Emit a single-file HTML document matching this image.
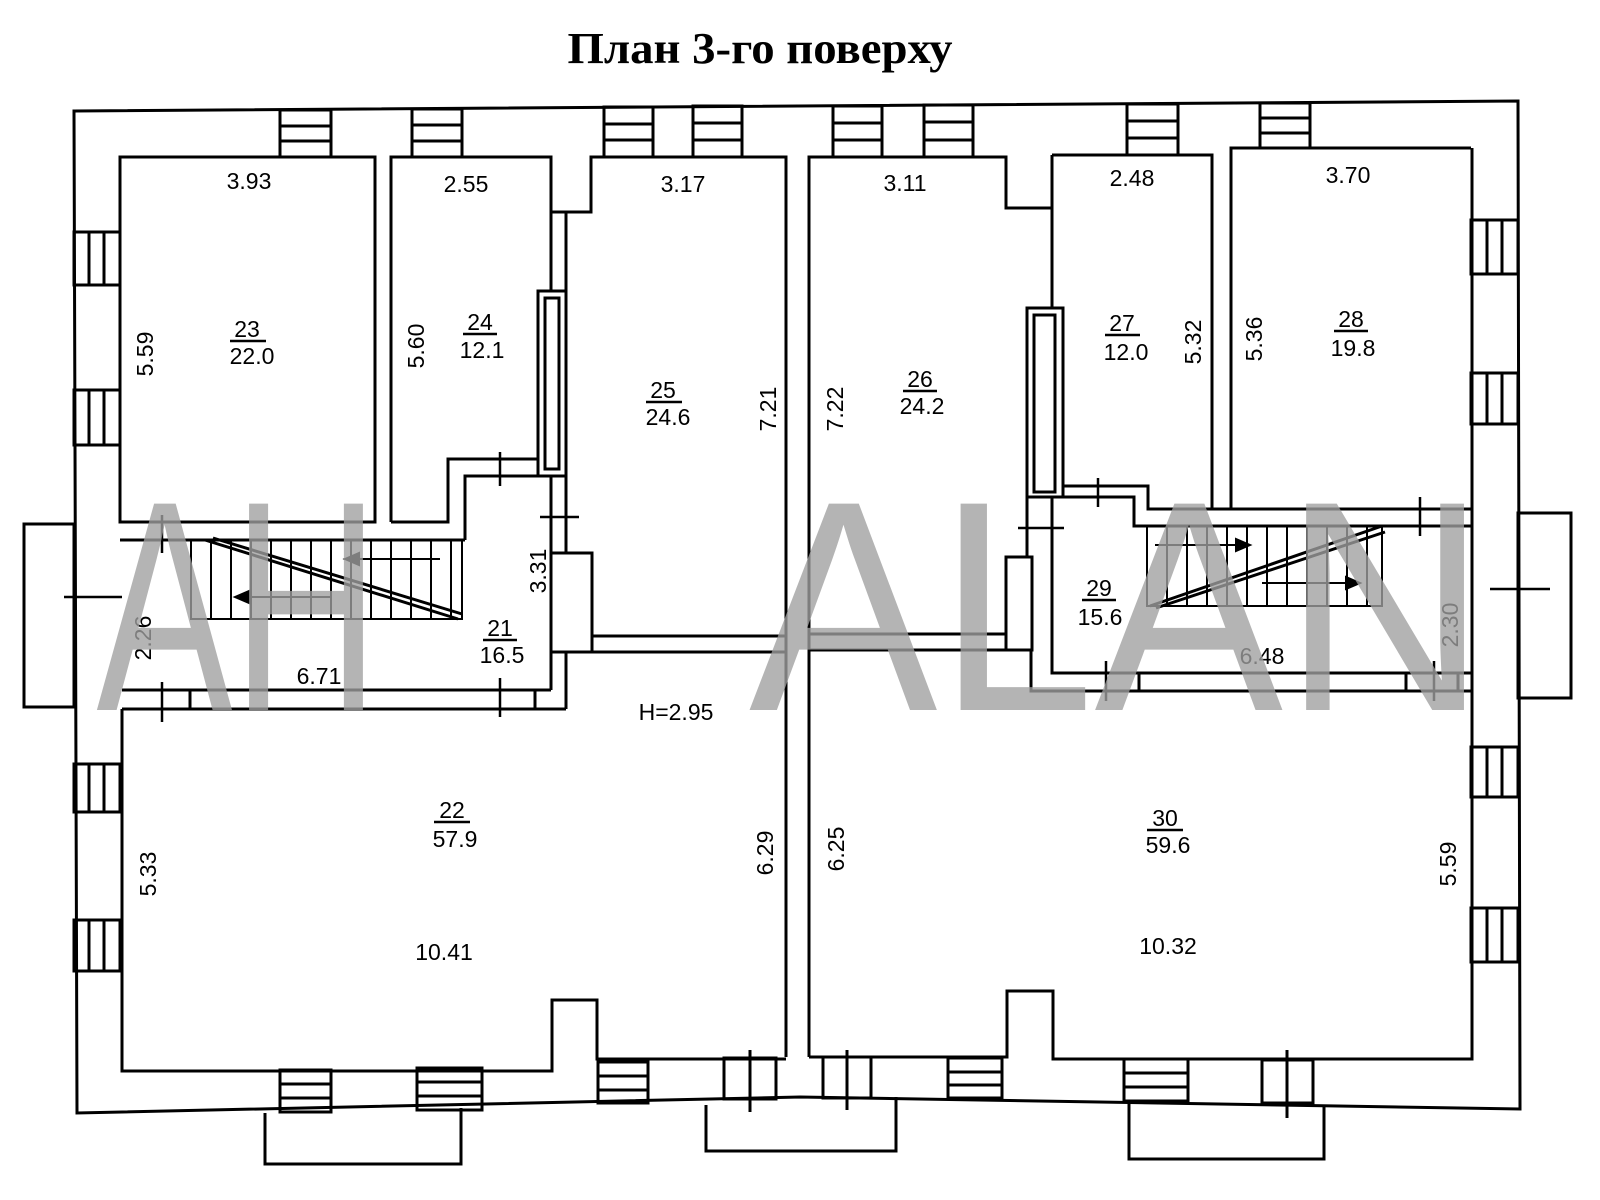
<!DOCTYPE html>
<html><head><meta charset="utf-8"><style>
html,body{margin:0;padding:0;background:#fff;width:1600px;height:1200px;overflow:hidden}
svg{display:block}
.l{fill:none;stroke:#000;stroke-width:3;stroke-linejoin:miter}
.t{stroke:#000;stroke-width:2.5}
text{font-family:"Liberation Sans",sans-serif;font-size:23px;fill:#000;text-anchor:middle}
</style></head><body>
<svg width="1600" height="1200" viewBox="0 0 1600 1200">
<text x="760" y="63" style="font-family:'Liberation Serif',serif;font-weight:bold;font-size:44px" textLength="385" lengthAdjust="spacingAndGlyphs">План 3-го поверху</text>

<!-- outer wall -->
<path class="l" d="M74,111 L1518,101 L1520,1109 L800,1097 L77,1113 Z" fill="#fff"/>
<!-- protrusions -->
<rect class="l" x="24" y="524" width="50" height="183"/>
<rect class="l" x="1518" y="513" width="53" height="185"/>
<path class="l" d="M265,1113 V1164 H461 V1108"/>
<path class="l" d="M706,1105 V1151 H896 V1097"/>
<path class="l" d="M1129,1100 V1159 H1324 V1105"/>
<line class="t" x1="64" y1="597" x2="122" y2="597"/>
<line class="t" x1="1490" y1="589" x2="1550" y2="589"/>

<!-- top windows -->
<g class="l">
<rect x="280" y="110" width="51" height="47"/><path d="M280,126H331M280,141H331"/>
<rect x="412" y="109" width="50" height="48"/><path d="M412,125H462M412,141H462"/>
<rect x="604" y="107" width="49" height="50"/><path d="M604,124H653M604,140H653"/>
<rect x="693" y="106" width="49" height="51"/><path d="M693,123H742M693,140H742"/>
<rect x="833" y="106" width="49" height="51"/><path d="M833,123H882M833,140H882"/>
<rect x="924" y="105" width="49" height="52"/><path d="M924,122H973M924,140H973"/>
<rect x="1127" y="104" width="51" height="51"/><path d="M1127,121H1178M1127,138H1178"/>
<rect x="1260" y="103" width="50" height="45"/><path d="M1260,118H1310M1260,133H1310"/>
<!-- left windows -->
<rect x="74" y="232" width="46" height="53"/><path d="M89,232V285M104,232V285"/>
<rect x="74" y="390" width="46" height="55"/><path d="M89,390V445M104,390V445"/>
<rect x="74" y="764" width="46" height="48"/><path d="M89,764V812M104,764V812"/>
<rect x="74" y="920" width="46" height="51"/><path d="M89,920V971M104,920V971"/>
<!-- right windows -->
<rect x="1471" y="220" width="47" height="54"/><path d="M1487,220V274M1502,220V274"/>
<rect x="1471" y="373" width="47" height="51"/><path d="M1487,373V424M1502,373V424"/>
<rect x="1471" y="747" width="47" height="50"/><path d="M1487,747V797M1502,747V797"/>
<rect x="1471" y="908" width="47" height="54"/><path d="M1487,908V962M1502,908V962"/>
<!-- bottom windows -->
<rect x="280" y="1070" width="51" height="42"/><path d="M280,1084H331M280,1098H331"/>
<rect x="417" y="1068" width="65" height="42"/><path d="M417,1082H482M417,1096H482"/>
<rect x="598" y="1062" width="50" height="41"/><path d="M598,1076H648M598,1090H648"/>
<rect x="948" y="1058" width="54" height="40"/><path d="M948,1072H1002M948,1085H1002"/>
<rect x="1124" y="1059" width="64" height="42"/><path d="M1124,1073H1188M1124,1087H1188"/>
<!-- bottom doors -->
<rect x="724" y="1058" width="52" height="41"/><path d="M750,1050V1112"/>
<rect x="823" y="1057" width="48" height="41"/><path d="M847,1050V1110"/>
<rect x="1262" y="1060" width="51" height="43"/><path d="M1287,1050V1118"/>
</g>

<!-- rooms -->
<g class="l">
<rect x="120" y="157" width="255" height="365" fill="#fff"/>
<path d="M391,522 V157 H551 V212 H591 V157 H786 V1057"/>
<path d="M551,212 V291 M566,212 V553"/>
<rect x="538" y="291" width="28" height="185"/>
<rect x="545" y="298" width="14" height="171"/>
<path d="M391,522 H448 V459 H538"/>
<path d="M465,540 V476 H566"/>
<path d="M120,540 H465"/>
<path d="M551,476 V690"/>
<rect x="551" y="553" width="41" height="99"/>
<path d="M566,652 V709"/>
<path d="M592,636 H786 M592,652 H786"/>
<path d="M122,690 H551 M122,709 H566"/>
<path d="M190,690 V709 M535,690 V709"/>
<path d="M122,709 V1071 H552 V1000 H597 V1059 H786"/>
<!-- right half -->
<path d="M809,1057 V157 H1006 V208 H1052"/>
<path d="M1052,155 H1212 V509"/>
<path d="M1052,155 V308"/>
<path d="M1231,509 V148 H1471"/>
<rect x="1027" y="308" width="36" height="189"/>
<rect x="1034" y="315" width="21" height="177"/>
<path d="M1063,486 H1148 V509 H1231"/>
<path d="M1063,497 H1134 V526 H1471"/>
<path d="M1231,509 H1471"/>
<path d="M1027,497 V557 M1052,497 V673 H1472"/>
<rect x="1006" y="557" width="26" height="93"/>
<path d="M809,634 H1006 M809,650 H1031 V691 H1472"/>
<path d="M1139,673 V691 M1406,673 V691 M1458,673 V691"/>
<path d="M809,1057 H1007 V991 H1053 V1059 H1472 V148"/>
</g>
<!-- door ticks -->
<g class="t">
<line x1="500" y1="452" x2="500" y2="486"/>
<line x1="162" y1="515" x2="162" y2="553"/>
<line x1="540" y1="517" x2="579" y2="517"/>
<line x1="162" y1="682" x2="162" y2="722"/>
<line x1="500" y1="678" x2="500" y2="717"/>
<line x1="1098" y1="478" x2="1098" y2="507"/>
<line x1="1018" y1="528" x2="1064" y2="528"/>
<line x1="1420" y1="497" x2="1420" y2="536"/>
<line x1="1106" y1="661" x2="1106" y2="701"/>
<line x1="1434" y1="661" x2="1434" y2="701"/>
</g>

<!-- stairs left -->
<g class="l" style="stroke-width:2">
<rect x="191" y="540" width="271" height="79"/>
<path d="M211,540V619M231,540V619M251,540V619M271,540V619M291,540V619M311,540V619M331,540V619M351,540V619M371,540V619M391,540V619M411,540V619M431,540V619M451,540V619"/>
<path d="M205,540 L458,619 M213,538 L462,614" style="stroke-width:3"/>
<path d="M440,559 H345 M330,597 H235"/>
<path d="M345,559 l14,-6 v12 z M235,597 l14,-6 v12 z" fill="#000"/>
</g>
<!-- stairs right -->
<g class="l" style="stroke-width:2">
<rect x="1147" y="526" width="235" height="80"/>
<path d="M1167,526V606M1187,526V606M1207,526V606M1227,526V606M1247,526V606M1267,526V606M1287,526V606M1307,526V606M1327,526V606M1347,526V606M1367,526V606"/>
<path d="M1150,606 L1382,526 M1156,608 L1385,532" style="stroke-width:3"/>
<path d="M1155,545 H1250 M1262,583 H1360"/>
<path d="M1250,545 l-14,-6 v12 z M1360,583 l-14,-6 v12 z" fill="#000"/>
</g>

<!-- labels -->
<g>
<text x="249" y="189">3.93</text>
<text x="466" y="192">2.55</text>
<text x="683" y="192">3.17</text>
<text x="905" y="191">3.11</text>
<text x="1132" y="186">2.48</text>
<text x="1348" y="183">3.70</text>
<text x="247" y="337">23</text><line class="t" x1="230" y1="341" x2="266" y2="341"/><text x="252" y="364">22.0</text>
<text x="480" y="330">24</text><line class="t" x1="463" y1="334" x2="497" y2="334"/><text x="482" y="358">12.1</text>
<text x="663" y="398">25</text><line class="t" x1="646" y1="402" x2="682" y2="402"/><text x="668" y="425">24.6</text>
<text x="920" y="387">26</text><line class="t" x1="903" y1="391" x2="937" y2="391"/><text x="922" y="414">24.2</text>
<text x="1122" y="331">27</text><line class="t" x1="1105" y1="335" x2="1140" y2="335"/><text x="1126" y="360">12.0</text>
<text x="1351" y="327">28</text><line class="t" x1="1334" y1="331" x2="1368" y2="331"/><text x="1353" y="356">19.8</text>
<text x="500" y="636">21</text><line class="t" x1="483" y1="640" x2="517" y2="640"/><text x="502" y="663">16.5</text>
<text x="1099" y="596">29</text><line class="t" x1="1082" y1="600" x2="1116" y2="600"/><text x="1100" y="625">15.6</text>
<text x="452" y="818">22</text><line class="t" x1="434" y1="822" x2="470" y2="822"/><text x="455" y="847">57.9</text>
<text x="1165" y="826">30</text><line class="t" x1="1147" y1="830" x2="1183" y2="830"/><text x="1168" y="853">59.6</text>
<text x="319" y="684">6.71</text>
<text x="1262" y="664">6.48</text>
<text x="676" y="720">H=2.95</text>
<text x="444" y="960">10.41</text>
<text x="1168" y="954">10.32</text>
<text transform="translate(153,354) rotate(-90)">5.59</text>
<text transform="translate(424,346) rotate(-90)">5.60</text>
<text transform="translate(776,409) rotate(-90)">7.21</text>
<text transform="translate(546,571) rotate(-90)">3.31</text>
<text transform="translate(843,409) rotate(-90)">7.22</text>
<text transform="translate(1201,342) rotate(-90)">5.32</text>
<text transform="translate(1262,339) rotate(-90)">5.36</text>
<text transform="translate(151,638) rotate(-90)">2.26</text>
<text transform="translate(1458,625) rotate(-90)">2.30</text>
<text transform="translate(156,874) rotate(-90)">5.33</text>
<text transform="translate(773,853) rotate(-90)">6.29</text>
<text transform="translate(844,849) rotate(-90)">6.25</text>
<text transform="translate(1456,864) rotate(-90)">5.59</text>
</g>

<!-- watermark -->
<g style="opacity:0.78">
<text x="238" y="710" style="font-size:300px;fill:#a0a0a0" textLength="283" lengthAdjust="spacingAndGlyphs">AH</text>
<text x="1118" y="710" style="font-size:300px;fill:#a0a0a0" textLength="738" lengthAdjust="spacingAndGlyphs">ALAN</text>
</g>
</svg>
</body></html>
